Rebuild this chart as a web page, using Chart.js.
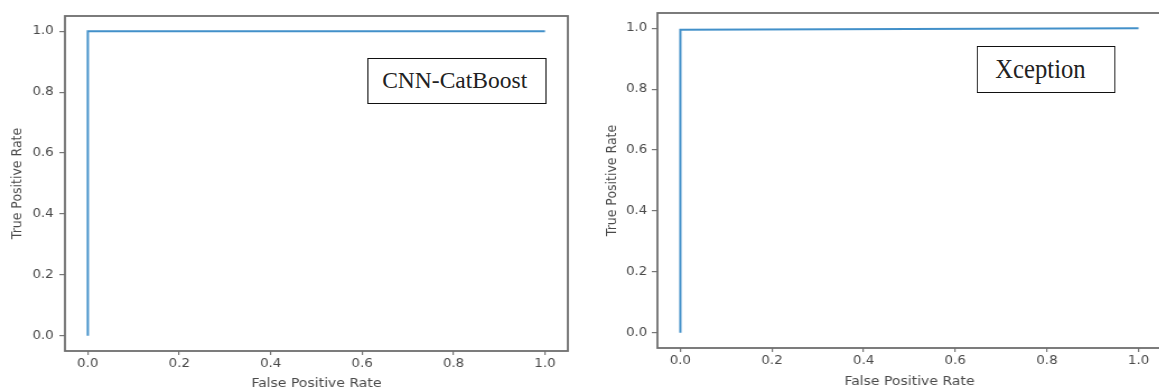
<!DOCTYPE html>
<html><head><meta charset="utf-8">
<script src="https://cdn.jsdelivr.net/npm/chart.js@4.4.1/dist/chart.umd.min.js"></script>
<style>
html,body{margin:0;padding:0;background:#fff;width:1159px;height:391px;overflow:hidden;}
#stage{position:absolute;left:0;top:0;width:1050px;height:391px;transform:scaleX(1.12);transform-origin:0 0;}
.pane{position:absolute;top:0;height:391px;}
#p1{left:0;width:520px;}
#p2{left:520px;width:525px;}
.box{position:absolute;border:1.6px solid #111;background:#fff;font-family:"Liberation Serif","Times New Roman",serif;color:#222;display:flex;align-items:center;justify-content:center;box-sizing:border-box;}
</style></head><body>
<div id="stage">
 <div class="pane" id="p1"><canvas id="c1" width="520" height="391"></canvas></div>
 <div class="pane" id="p2"><canvas id="c2" width="525" height="391"></canvas></div>
 <div class="box" style="left:327.5px;top:58px;width:160px;height:46px;font-size:21px;"><span style="display:inline-block;transform:scaleY(1.05);margin-left:-3px">CNN-CatBoost</span></div>
 <div class="box" style="left:872px;top:46px;width:124px;height:47px;font-size:22px;"><span style="display:inline-block;transform:scaleY(1.2);margin-right:10px">Xception</span></div>
</div>
<script>
// ---- data ----
const fprCatBoost = [0, 0, 1];
const tprCatBoost = [0, 1, 1];
const fprXception = [0, 0, 1];
const tprXception = [0, 0.995, 1];
const tickValues = [0, 0.2, 0.4, 0.6, 0.8, 1.0];
const xTitle = 'False Positive Rate';
const yTitle = 'True Positive Rate';

const frame = {
  id: 'frame',
  afterDatasetsDraw(chart) {
    const {ctx, chartArea: a} = chart;
    ctx.save();
    ctx.strokeStyle = '#6e6e6e';
    ctx.lineWidth = 1.8;
    ctx.strokeRect(a.left, a.top, a.right - a.left, a.bottom - a.top);
    ctx.restore();
  }
};

function makeChart(id, fpr, tpr, g) {
  const pts = fpr.map((x, i) => ({x: x, y: tpr[i]}));
  const tickFont = {family: 'DejaVu Sans', size: 12};
  const titleFont = {family: 'DejaVu Sans', size: 12.5};
  const setTicks = s => { s.ticks = tickValues.map(v => ({value: v})); };
  return new Chart(document.getElementById(id), {
    type: 'scatter',
    data: {datasets: [{data: pts, showLine: true, pointRadius: 0, borderColor: '#4290c9', borderWidth: 2, fill: false, tension: 0}]},
    options: {
      responsive: false, animation: false,
      layout: {padding: {top: g.top, right: g.right, left: 0, bottom: 0}},
      plugins: {legend: {display: false}, tooltip: {enabled: false}},
      scales: {
        x: {
          type: 'linear', min: -0.05, max: 1.05,
          afterBuildTicks: setTicks,
          afterFit: s => { s.height = g.xh; },
          border: {display: false},
          grid: {display: true, drawOnChartArea: false, drawTicks: true, tickLength: 4, tickColor: '#777', lineWidth: 1.2},
          ticks: {font: tickFont, color: '#4a4a4a', padding: 2, maxRotation: 0, autoSkip: false, callback: v => v.toFixed(1)},
          title: {display: true, text: xTitle, font: titleFont, color: '#4a4a4a', padding: {top: 0, bottom: g.xtp}}
        },
        y: {
          type: 'linear', min: -0.05, max: 1.05,
          afterBuildTicks: setTicks,
          afterFit: s => { s.width = g.yw; },
          border: {display: false},
          grid: {display: true, drawOnChartArea: false, drawTicks: true, tickLength: 5, tickColor: '#777', lineWidth: 1.2},
          ticks: {font: tickFont, color: '#4a4a4a', padding: g.ytp, autoSkip: false, callback: v => v.toFixed(1)},
          title: {display: true, text: yTitle, font: titleFont, color: '#4a4a4a', padding: {top: g.ytt, bottom: 0}}
        }
      }
    },
    plugins: [frame]
  });
}

makeChart('c1', fprCatBoost, tprCatBoost, {top: 16, right: 13, xh: 40, yw: 58, xtp: 0, ytp: 5, ytt: 8});
makeChart('c2', fprXception, tprXception, {top: 13, right: 8, xh: 43, yw: 67, xtp: 2, ytp: 4, ytt: 19});
</script>
</body></html>
